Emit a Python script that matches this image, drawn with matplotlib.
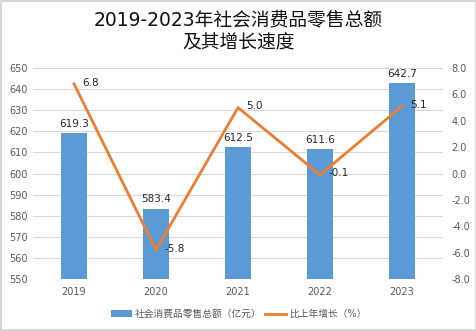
import matplotlib.pyplot as plt
from matplotlib.patches import Rectangle

plt.rcParams['font.family'] = ['DejaVu Sans', 'Noto Sans CJK SC']

years = ['2019', '2020', '2021', '2022', '2023']
sales = [619.3, 583.4, 612.5, 611.6, 642.7]
growth = [6.8, -5.8, 5.0, -0.1, 5.1]

bar_color = '#5B9BD5'
line_color = '#ED7D31'
tick_color = '#595959'

fig = plt.figure(figsize=(4.77, 3.31), dpi=100)
ax = fig.add_axes([33 / 477, 1 - 279 / 331, 410 / 477, 211 / 331])
ax2 = ax.twinx()

x = list(range(len(years)))
ax.bar(x, sales, width=0.32, color=bar_color, zorder=2, label='社会消费品零售总额（亿元）')
ax.set_ylim(550, 650)
ax.set_yticks(range(550, 651, 10))
ax.set_xlim(-0.5, 4.5)
ax.set_xticks(x)
ax.set_xticklabels(years)
ax.grid(axis='y', color='#D9D9D9', linewidth=0.8, zorder=0)
for s in ax.spines.values():
    s.set_visible(False)
for s in ax2.spines.values():
    s.set_visible(False)
ax.tick_params(length=0, labelsize=7, colors=tick_color, pad=6)
ax.tick_params(axis='y', pad=4)

for xi, v in zip(x, sales):
    ax.text(xi, v + 2, f'{v:.1f}', ha='center', va='bottom', fontsize=7.5, color='#262626')

ax2.plot(x, growth, color=line_color, linewidth=2, zorder=3, label='比上年增长（%）')
ax2.set_ylim(-8, 8)
ax2.set_yticks(range(-8, 9, 2))
ax2.set_yticklabels([f'{t:.1f}' for t in range(-8, 9, 2)])
ax2.tick_params(length=0, labelsize=7, colors=tick_color, pad=6)

for xi, v in zip(x, growth):
    ax2.text(xi + 0.1, v + 0.1, f'{v:.1f}', ha='left', va='center', fontsize=7.5, color='#262626')

fig.text(0.5, 1 - 20 / 331, '2019-2023年社会消费品零售总额', ha='center', va='center',
         fontsize=13.5, color='#111111')
fig.text(0.5, 1 - 43 / 331, '及其增长速度', ha='center', va='center',
         fontsize=13.5, color='#111111')

h1, l1 = ax.get_legend_handles_labels()
h2, l2 = ax2.get_legend_handles_labels()
fig.legend(h1 + h2, l1 + l2, loc='center', bbox_to_anchor=(0.5, 1 - 314 / 331),
           ncol=2, frameon=False, fontsize=7, handlelength=2.2, handleheight=0.6,
           columnspacing=0.3, handletextpad=0.3, labelcolor=tick_color)

fig.patches.append(Rectangle((0.002, 0.003), 0.996, 0.994, transform=fig.transFigure,
                             fill=False, edgecolor='#D0D0D0', linewidth=1.2))

fig.savefig('out.png', dpi=100)
